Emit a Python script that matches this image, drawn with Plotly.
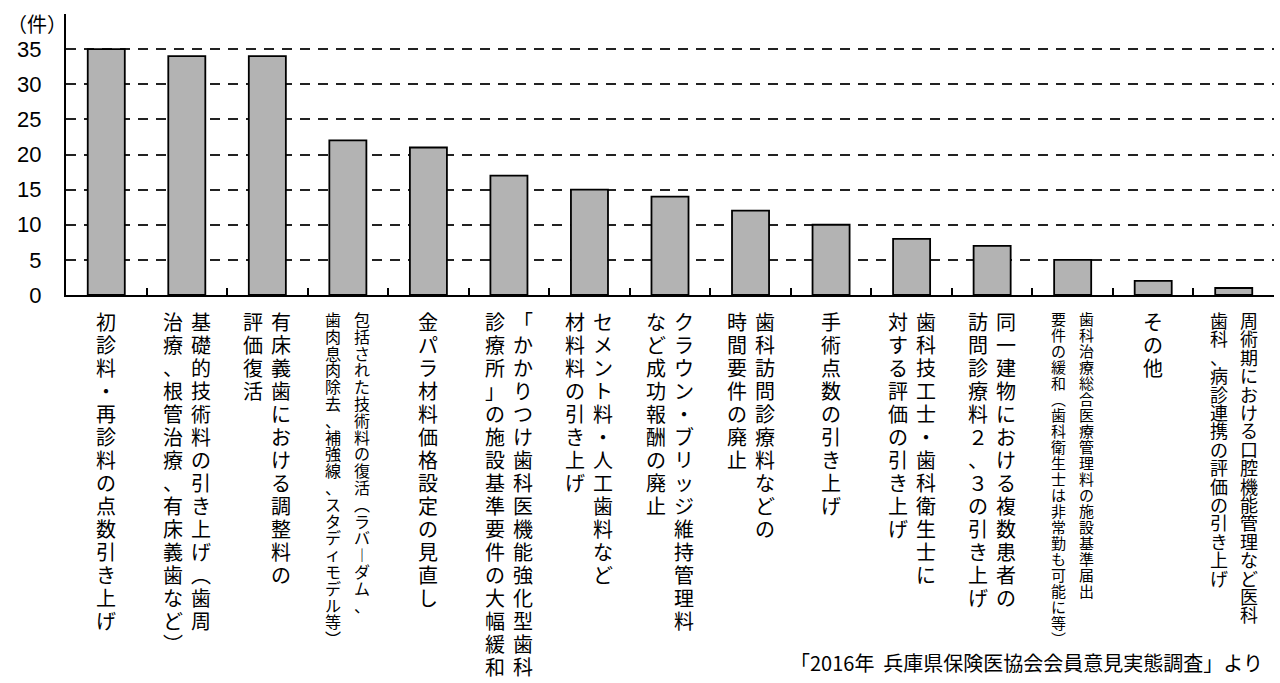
import plotly.graph_objects as go

# Categories (each label is a list of vertical text columns, first column = rightmost)
categories = [
    "初診料・再診料の点数引き上げ",
    "基礎的技術料の引き上げ（歯周治療、根管治療、有床義歯など）",
    "有床義歯における調整料の評価復活",
    "包括された技術料の復活（ラバーダム、歯肉息肉除去、補強線、スタディモデル等）",
    "金パラ材料価格設定の見直し",
    "「かかりつけ歯科医機能強化型歯科診療所」の施設基準要件の大幅緩和",
    "セメント料・人工歯料など材料料の引き上げ",
    "クラウン・ブリッジ維持管理料など成功報酬の廃止",
    "歯科訪問診療料などの時間要件の廃止",
    "手術点数の引き上げ",
    "歯科技工士・歯科衛生士に対する評価の引き上げ",
    "同一建物における複数患者の訪問診療料２、３の引き上げ",
    "歯科治療総合医療管理料の施設基準届出要件の緩和（歯科衛生士は非常勤も可能に等）",
    "その他",
    "周術期における口腔機能管理など医科歯科、病診連携の評価の引き上げ",
]
label_columns = [
    ["初診料・再診料の点数引き上げ"],
    ["基礎的技術料の引き上げ︵歯周", "治療、根管治療、有床義歯など︶"],
    ["有床義歯における調整料の", "評価復活"],
    ["包括された技術料の復活︵ラバ︱ダム、", "歯肉息肉除去、補強線、スタディモデル等︶"],
    ["金パラ材料価格設定の見直し"],
    ["「かかりつけ歯科医機能強化型歯科", "診療所」の施設基準要件の大幅緩和"],
    ["セメント料・人工歯料など", "材料料の引き上げ"],
    ["クラウン・ブリッジ維持管理料", "など成功報酬の廃止"],
    ["歯科訪問診療料などの", "時間要件の廃止"],
    ["手術点数の引き上げ"],
    ["歯科技工士・歯科衛生士に", "対する評価の引き上げ"],
    ["同一建物における複数患者の", "訪問診療料２、３の引き上げ"],
    ["歯科治療総合医療管理料の施設基準届出", "要件の緩和︵歯科衛生士は非常勤も可能に等︶"],
    ["その他"],
    ["周術期における口腔機能管理など医科", "歯科、病診連携の評価の引き上げ"],
]
values = [35, 34, 34, 22, 21, 17, 15, 14, 12, 10, 8, 7, 5, 2, 1]
y_ticks = [0, 5, 10, 15, 20, 25, 30, 35]
y_unit = "（件）"
source_note = "「2016年  兵庫県保険医協会会員意見実態調査」より"

# label typography per category: (font size, pitch, column spacing)
label_style = {3: (16, 16.8, 29), 12: (15, 16.0, 28), 14: (18, 18.4, 30)}
default_style = (20, 23.0, 28)

JP = "Noto Sans CJK JP"

fig = go.Figure()
fig.add_trace(go.Bar(
    x=categories, y=values, width=0.46,
    marker=dict(color="#b3b3b3", line=dict(color="#000000", width=1.8)),
    hoverinfo="skip",
))

annotations = []
for ci, (cat, cols) in enumerate(zip(categories, label_columns)):
    size, pitch, spacing = label_style.get(ci, default_style)
    n = len(cols)
    for k, col in enumerate(cols):
        xoff = ((n - 1) / 2 - k) * spacing
        for i, ch in enumerate(col):
            annotations.append(dict(
                x=cat, xref="x", y=0, yref="paper",
                text=ch, showarrow=False,
                xanchor="center", yanchor="middle", borderpad=0,
                xshift=xoff, yshift=-(16 + size / 2 + i * pitch),
                font=dict(family=JP, size=size, color="#000000"),
            ))

annotations.append(dict(
    x=0, xref="paper", y=1, yref="paper", text=y_unit, showarrow=False,
    xanchor="right", yanchor="middle", xshift=3, yshift=-9,
    font=dict(family=JP, size=20, color="#000000"),
))
annotations.append(dict(
    x=1, xref="paper", y=0, yref="paper", text=source_note, showarrow=False,
    xanchor="right", yanchor="middle", xshift=-9, yshift=-367,
    font=dict(family=JP, size=20, color="#000000"),
))

fig.update_layout(
    width=1280, height=683,
    margin=dict(l=66, r=6, t=14, b=388),
    paper_bgcolor="white", plot_bgcolor="white",
    showlegend=False, bargap=0.54,
    annotations=annotations,
    font=dict(family=JP, color="#000000"),
)
fig.update_xaxes(
    showticklabels=False, showline=True, linecolor="#000000", linewidth=2,
    ticks="inside", tickson="boundaries", ticklen=7, tickwidth=1.5, tickcolor="#000000",
    showgrid=False,
)
fig.update_yaxes(
    range=[0, 40], tickvals=y_ticks, ticks="", ticklabelstandoff=18,
    tickfont=dict(family="Liberation Sans", size=22, color="#000000"),
    showline=True, linecolor="#000000", linewidth=2,
    showgrid=True, gridcolor="#222222", gridwidth=1.5, griddash="10px,8px",
    zeroline=False,
)

fig.write_html("out.html")
